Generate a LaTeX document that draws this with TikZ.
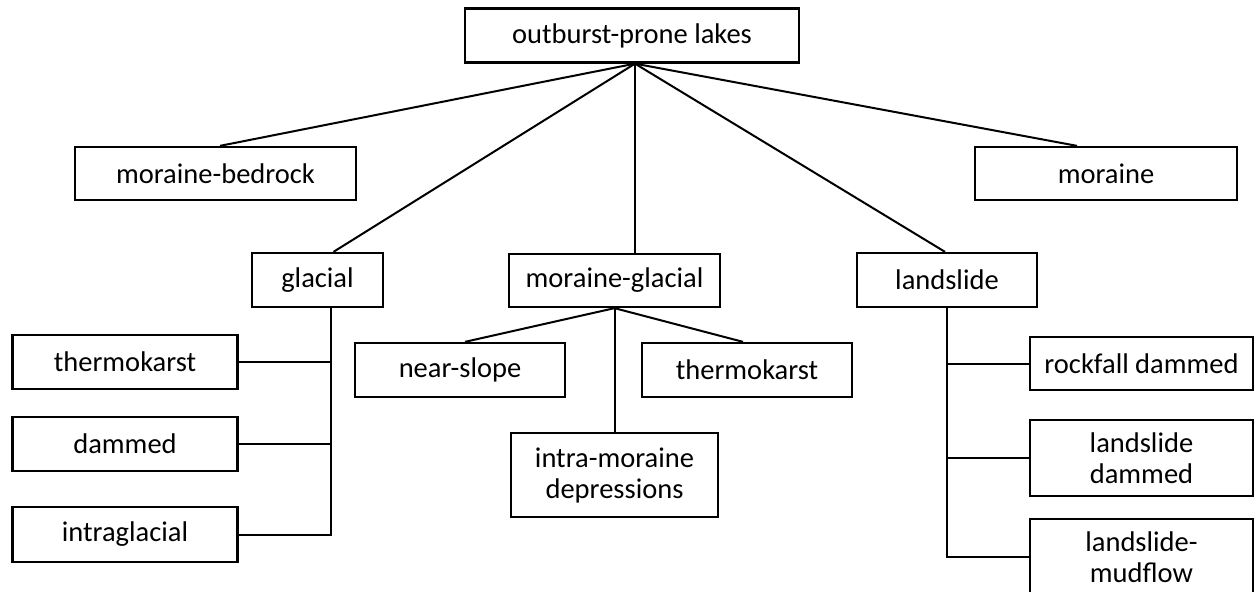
\documentclass[tikz,border=0pt]{standalone}
\usepackage{fontspec}
\setmainfont{Carlito}
\begin{document}
\begin{tikzpicture}[x=1pt,y=-1pt,
  box/.style={draw, line width=2.3pt, inner sep=0pt, align=center,
    font=\fontsize{28.5}{31}\selectfont},
  link/.style={line width=2pt}]
\useasboundingbox[fill=white] (0,0) rectangle (1254,592);
% level 0
\node[box, minimum width=334pt, minimum height=54pt] (top) at (632,35.5) {outburst-prone lakes};
\coordinate (hub) at ([xshift=3pt]top.south);
% level 1
\node[box, minimum width=281pt, minimum height=53pt] (mb) at (215.5,173.5) {moraine-bedrock};
\node[box, minimum width=262pt, minimum height=53pt] (mor) at (1106,173.5) {moraine};
\node[box, minimum width=131pt, minimum height=54pt] (gla) at (317.5,280) {glacial};
\node[box, minimum width=211pt, minimum height=53pt] (mg) at (614.5,280.5) {moraine-glacial};
\node[box, minimum width=180pt, minimum height=54pt] (ls) at (947,280) {landslide};
% glacial children
\node[box, minimum width=225pt, minimum height=54pt] (gt) at (125,362) {thermokarst};
\node[box, minimum width=225pt, minimum height=54pt] (gd) at (125,444) {dammed};
\node[box, minimum width=225pt, minimum height=55pt] (gi) at (125,534.5) {intraglacial};
% moraine-glacial children
\node[box, minimum width=210pt, minimum height=54pt] (ns) at (460,370) {near-slope};
\node[box, minimum width=210pt, minimum height=54pt] (mt) at (747,370) {thermokarst};
\node[box, minimum width=207pt, minimum height=84pt] (im) at (614.5,475) {intra-moraine\\depressions};
% landslide children
\node[box, minimum width=223pt, minimum height=53pt] (rd) at (1141.5,363.5) {rockfall dammed};
\node[box, minimum width=223pt, minimum height=76pt] (ld) at (1141.5,458) {landslide\\dammed};
\node[box, minimum width=223pt, minimum height=76pt] (lm) at (1141.5,557) {landslide-\\mudflow};
% connectors from top
\draw[link] (hub) -- ([xshift=4.5pt]mb.north);
\draw[link] (hub) -- ([xshift=-29pt]mor.north);
\draw[link] (hub) -- ([xshift=16pt]gla.north);
\draw[link] (hub) -- (hub |- mg.north);
\draw[link] (hub) -- ([xshift=-2pt]ls.north);
% glacial tree
\coordinate (gv) at (331,0);
\draw[link] (gv |- gla.south) -- (gv |- gi.east) -- (gi.east);
\draw[link] (gt.east) -- (gv |- gt.east);
\draw[link] (gd.east) -- (gv |- gd.east);
% moraine-glacial tree
\draw[link] (mg.south) -- ([xshift=5pt]ns.north);
\draw[link] (mg.south) -- ([xshift=-4pt]mt.north);
\draw[link] (mg.south) -- (im.north);
% landslide tree
\draw[link] (ls.south) -- (ls.south |- lm.west) -- (lm.west);
\draw[link] (rd.west) -- (ls.south |- rd.west);
\draw[link] (ld.west) -- (ls.south |- ld.west);
\end{tikzpicture}
\end{document}
